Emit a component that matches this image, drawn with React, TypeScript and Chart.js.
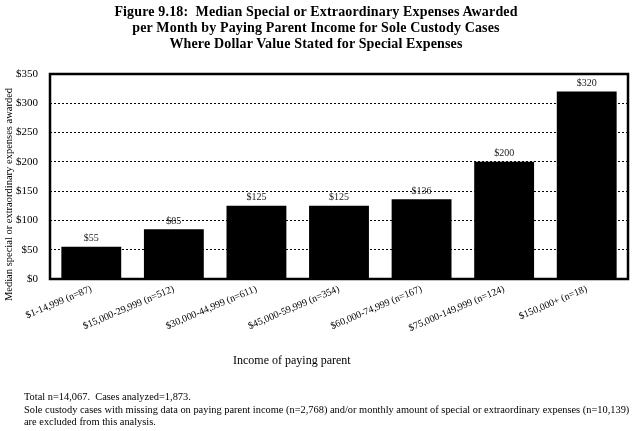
import React, { useEffect, useRef } from "react";
import { Chart, registerables } from "chart.js";

Chart.register(...registerables);

const FONT = "'Liberation Serif', 'Times New Roman', Times, serif";

const titleLines = [
  "Figure 9.18:  Median Special or Extraordinary Expenses Awarded",
  "per Month by Paying Parent Income for Sole Custody Cases",
  "Where Dollar Value Stated for Special Expenses",
];

const categories = [
  "$1-14,999 (n=87)",
  "$15,000-29,999 (n=512)",
  "$30,000-44,999 (n=611)",
  "$45,000-59,999 (n=354)",
  "$60,000-74,999 (n=167)",
  "$75,000-149,999 (n=124)",
  "$150,000+ (n=18)",
];

const values = [55, 85, 125, 125, 136, 200, 320];
const valueLabels = ["$55", "$85", "$125", "$125", "$136", "$200", "$320"];

const yMin = 0;
const yMax = 350;
const yStep = 50;

const yTitle = "Median special or extraordinary expenses awarded";
const xTitle = "Income of paying parent";

const footnotes = [
  "Total n=14,067.  Cases analyzed=1,873.",
  "Sole custody cases with missing data on paying parent income (n=2,768) and/or monthly amount of special or extraordinary expenses (n=10,139)",
  "are excluded from this analysis.",
];

export default function App() {
  const ref = useRef<HTMLCanvasElement>(null);

  useEffect(() => {
    if (!ref.current) return;

    const framePlugin = {
      id: "frame",
      afterDatasetsDraw(chart: any) {
        const { ctx, chartArea } = chart;
        ctx.save();
        ctx.strokeStyle = "#000";
        ctx.lineWidth = 2.5;
        ctx.strokeRect(
          chartArea.left,
          chartArea.top,
          chartArea.right - chartArea.left,
          chartArea.bottom - chartArea.top
        );
        ctx.restore();
      },
    };

    const valueLabelPlugin = {
      id: "valueLabels",
      afterDatasetsDraw(chart: any) {
        const { ctx } = chart;
        const meta = chart.getDatasetMeta(0);
        ctx.save();
        ctx.font = `10px ${FONT}`;
        ctx.fillStyle = "#222";
        ctx.textAlign = "center";
        ctx.textBaseline = "bottom";
        meta.data.forEach((el: any, i: number) => {
          ctx.fillText(valueLabels[i], el.x, el.y - 3);
        });
        ctx.restore();
      },
    };

    const yTitlePlugin = {
      id: "yTitle",
      afterDraw(chart: any) {
        const { ctx, chartArea } = chart;
        const cy = (chartArea.top + chartArea.bottom) / 2 + 18;
        ctx.save();
        ctx.translate(9, cy);
        ctx.rotate(-Math.PI / 2);
        ctx.font = `10.5px ${FONT}`;
        ctx.fillStyle = "#000";
        ctx.textAlign = "center";
        ctx.textBaseline = "middle";
        ctx.fillText(yTitle, 0, 0);
        ctx.restore();
      },
    };

    const chart = new Chart(ref.current, {
      type: "bar",
      data: {
        labels: categories,
        datasets: [
          {
            data: values,
            backgroundColor: "#000",
            borderWidth: 0,
            barPercentage: 0.725,
            categoryPercentage: 1,
          },
        ],
      },
      options: {
        responsive: false,
        animation: false,
        devicePixelRatio: 1,
        layout: { padding: { top: 74, right: 4, bottom: 82, left: 0 } },
        plugins: {
          legend: { display: false },
          tooltip: { enabled: false },
          title: { display: false },
        },
        scales: {
          x: {
            grid: { display: false, drawTicks: false },
            border: { display: false },
            ticks: {
              font: { family: FONT, size: 10 },
              color: "#000",
              minRotation: 23,
              maxRotation: 23,
              padding: 4,
              autoSkip: false,
            },
            afterFit: (s: any) => {
              s.height = 70;
            },
          },
          y: {
            min: yMin,
            max: yMax,
            ticks: {
              stepSize: yStep,
              callback: (v: any) => "$" + v,
              font: { family: FONT, size: 11 },
              color: "#000",
              padding: 12,
            },
            grid: {
              color: (ctx: any) =>
                ctx.tick && (ctx.tick.value === yMin || ctx.tick.value === yMax)
                  ? "rgba(0,0,0,0)"
                  : "#000",
              lineWidth: 1,
              drawTicks: false,
            },
            border: { display: false, dash: [2, 2] },
            afterFit: (s: any) => {
              s.width = 50;
            },
          },
        },
      },
      plugins: [framePlugin, valueLabelPlugin, yTitlePlugin],
    });

    return () => chart.destroy();
  }, []);

  return (
    <div
      style={{
        position: "absolute",
        left: 0,
        top: 0,
        width: 632,
        height: 431,
        background: "#fff",
        fontFamily: FONT,
        color: "#000",
        overflow: "hidden",
      }}
    >
      <canvas
        ref={ref}
        width={632}
        height={431}
        style={{ position: "absolute", left: 0, top: 0, width: 632, height: 431 }}
      />
      <div
        style={{
          position: "absolute",
          left: 0,
          top: 4,
          width: 632,
          textAlign: "center",
          fontWeight: "bold",
          fontSize: 14,
          letterSpacing: "0.15px",
          lineHeight: "16px",
        }}
      >
        {titleLines.map((t, i) => (
          <div key={i} style={{ whiteSpace: "pre" }}>
            {t}
          </div>
        ))}
      </div>
      <div
        style={{
          position: "absolute",
          left: 233,
          top: 353,
          fontSize: 12,
          lineHeight: "14px",
          whiteSpace: "nowrap",
        }}
      >
        {xTitle}
      </div>
      <div
        style={{
          position: "absolute",
          left: 24,
          top: 391,
          fontSize: 10.4,
          lineHeight: "12.6px",
          whiteSpace: "pre",
        }}
      >
        {footnotes.map((t, i) => (
          <div key={i}>{t}</div>
        ))}
      </div>
    </div>
  );
}
